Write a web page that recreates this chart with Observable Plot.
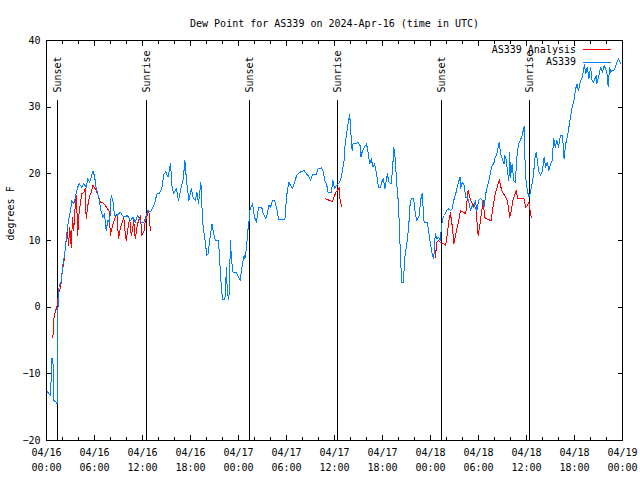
<!DOCTYPE html>
<html><head><meta charset="utf-8">
<script src="https://cdn.jsdelivr.net/npm/d3@7"></script>
<script src="https://cdn.jsdelivr.net/npm/@observablehq/plot@0.6"></script>
<style>
body{margin:0;background:#fff;}
#wrap{width:640px;height:480px;}
</style></head><body><div id="wrap"></div><script>
const title = "Dew Point for AS339 on 2024-Apr-16 (time in UTC)";
const yLabel = "degrees F";
const seriesNames = ["AS339 Analysis", "AS339"];
const seriesColors = ["#ff0000", "#0080ff"];
const startUTC = Date.UTC(2024, 3, 16);

// hours after 2024-04-16 00:00 UTC
const blueHours = [0.0,0.5,0.67,0.8,0.9,1.2,1.33,1.4,1.58,1.83,2.04,2.33,2.58,2.75,3.0,3.17,3.42,3.7,3.9,4.1,4.4,4.67,4.96,5.17,5.4,5.8,6.0,6.2,6.4,6.6,6.8,7.04,7.25,7.46,7.67,7.9,8.08,8.3,8.5,8.8,9.25,9.5,9.8,10.1,10.5,10.8,11.1,11.4,11.8,12.2,12.67,13.0,13.5,13.8,14.1,14.4,14.7,14.9,15.2,15.5,15.7,15.9,16.25,16.5,16.75,17.1,17.3,17.5,17.8,18.1,18.3,18.6,18.8,19.0,19.3,19.4,19.5,19.7,19.9,20.0,20.2,20.5,20.7,20.9,21.1,21.5,21.6,21.8,22.0,22.3,22.5,22.6,22.8,23.0,23.1,23.3,23.7,24.0,24.2,24.5,24.7,24.8,25.0,25.2,25.33,25.4,25.75,26.0,26.25,26.5,26.9,27.1,27.4,27.6,27.8,28.0,28.25,28.5,28.75,28.9,29.0,29.8,29.9,30.1,30.3,30.5,30.75,31.1,31.25,31.7,32.2,32.5,32.8,33.0,33.25,33.7,33.96,34.4,34.6,34.8,35.0,35.2,35.6,35.8,36.0,36.2,36.5,36.8,37.0,37.2,37.3,37.5,37.7,37.9,38.0,38.2,38.3,38.7,38.9,39.2,39.3,39.5,40.0,40.2,40.4,40.6,40.8,41.0,41.25,41.5,41.7,41.9,42.1,42.3,42.6,42.8,43.1,43.3,43.4,43.6,43.75,43.96,44.1,44.25,44.4,44.6,44.8,45.1,45.3,45.4,45.6,45.9,46.1,46.3,46.6,46.75,46.96,47.1,47.2,47.6,47.8,48.0,48.2,48.4,48.6,48.8,49.0,49.2,49.4,49.5,49.75,50.0,50.3,50.5,50.7,50.9,51.1,51.3,51.5,51.7,51.75,51.96,52.2,52.4,52.6,52.8,53.0,53.2,53.4,53.6,53.8,54.0,54.25,54.5,54.7,54.9,55.1,55.3,55.5,55.7,55.9,56.1,56.3,56.5,56.6,56.75,56.9,57.2,57.3,57.5,57.6,57.8,57.9,58.0,58.2,58.4,58.6,58.8,59.0,59.2,59.4,59.5,59.7,59.8,59.9,60.1,60.3,60.4,60.7,60.9,61.0,61.2,61.3,61.5,61.75,62.0,62.2,62.4,62.6,62.8,63.0,63.2,63.4,63.6,63.8,64.0,64.25,64.5,64.7,64.9,65.1,65.3,65.5,65.7,65.9,66.1,66.3,66.5,66.75,67.0,67.1,67.25,67.4,67.6,67.8,68.0,68.2,68.4,68.7,68.8,69.0,69.25,69.5,69.7,69.9,70.1,70.2,70.4,70.5,70.7,70.9,71.1,71.3,71.5,71.75];
const blueValues = [-12.5,-13.3,-7.7,-7.7,-14,-14.2,-14.5,-1,3.3,3.5,6.3,8.5,11.5,13,14.5,16,15.5,17,18,18.5,18,18.5,18,19.3,18.7,20.4,19.7,18,17,16,14.5,13.5,14,11.5,13,12.7,16.75,16,13.75,13.75,14.25,13.75,13.5,13.75,13,13.5,12.75,13.75,12.75,12.75,14.5,14.3,15.5,17,17,17.8,20,20.3,19.5,21.6,18,17,17.8,16,17.5,19.3,22,19,16,17.8,16.5,16,17.2,15.5,18.75,16,13,11,9.5,7.75,8,11,12.5,11,10,10,8,4,1.15,1.15,6,2,1.15,10,7.5,5.25,5.25,4.5,4,6.5,7.75,7.25,9,11.8,13,14.5,15.5,13.5,12.75,15,15,14,13.3,14,15.25,15,16,16,15,14,13.15,13.15,15,17.5,18.75,18.25,17.75,19,19.75,20.25,20.5,20,19.6,19,19.9,19.9,20.75,20.9,20.25,19,18.5,17.25,17.25,19,17.75,18.25,18.5,19.25,20.5,22,24,26,27.5,28.9,27,23.5,24.5,24.5,24.75,24.25,22.5,23.5,24.5,23.25,21.5,22.25,21,21.5,20,17.9,17.9,18.75,19.25,17.75,20,18.75,18.5,21.5,24,22.25,19,16,12.5,7.5,3.75,3.75,7.5,10,12.5,15,16.25,16.25,14,13,13.75,16,17,14.5,12.75,12.75,11,9.5,8,7.25,11,10.25,10.5,10,12.25,13.25,13.75,14.5,14.75,14.5,14.75,16,16.75,17.75,18.75,19.5,17.75,18.75,18.25,16.5,16.5,15.75,14.5,15.25,15,16,14.5,16,16.25,16,15,17,18,19,20.25,21.25,21.5,22.5,23,24.25,24.75,23,22.5,21.5,22.75,22,20.5,19,23.25,19.5,21.5,19,18.75,22.5,24.5,25,25.5,26,27.1,22.5,19.5,17.5,16.5,16.75,18.5,20,22,23.25,22.5,20.5,19.75,20.5,22.5,21,21.75,20.5,21.5,22,25.25,24,25,24,25.75,25.75,22.25,24.5,25.5,27,28.5,30,30.75,32.5,33.5,32.5,34,34.5,35.5,36.4,35,36,34.25,36,34,33.75,34.75,33.5,34.5,36,35.25,36.25,35.75,34.75,33.1,36,35.25,35.5,35.5,36,36.75,37.25,36.6];

// null entries mark gaps in the analysis series
const redHours = [0.8,0.92,1.04,1.33,1.5,1.75,1.92,2.1,2.25,2.42,2.6,2.75,2.9,3.1,3.25,3.4,3.6,3.75,3.9,4.1,4.2,4.4,4.67,4.83,4.96,5.2,5.4,5.6,5.8,6.1,6.4,6.75,7.0,7.5,7.9,7.96,8.2,8.4,8.6,8.8,9.0,9.25,9.5,9.67,9.75,9.96,10.2,10.4,10.6,10.8,10.9,11.1,11.3,11.5,11.75,11.9,12.2,12.3,12.5,12.75,12.9,12.96,null,34.9,35.4,35.75,36.0,36.2,36.5,36.6,36.7,36.9,null,48.6,48.8,49.0,49.2,49.5,49.7,49.9,50.1,50.3,50.5,50.6,50.75,50.9,51.1,51.3,51.5,51.75,52.1,52.4,52.7,52.9,53.1,53.4,53.6,53.75,53.8,53.96,54.2,54.4,54.6,54.75,54.96,55.3,55.6,55.8,56.1,56.4,56.6,56.8,57.0,57.4,57.6,57.7,57.9,58.1,58.3,58.5,58.7,58.9,59.2,59.7,59.9,60.1,60.3,60.4,60.6,60.7];
const redValues = [-4.5,-1.75,-1,0.25,2,3,5,6.25,7.5,9.75,11.5,9.25,12,9,13.5,11.5,15.5,16.75,10.75,14.75,15.25,17,17.25,17.75,13.25,15.5,16.75,17.25,18.25,17.75,17,15.75,15.75,15,14.25,10.75,12,12.75,13.5,14,10.25,12,12.75,13.5,12,10,12,13.25,10.75,12,13,10.25,12,13,13.75,10.75,11.5,12.5,13.5,14.5,13.5,11.5,null,16.25,16,15.85,16.75,17.25,17.75,18,16,15.1,null,7.5,9.75,10,9.75,9.5,9.5,9.25,11,13,14.25,13,12,9.5,10.5,11.75,12.75,14.5,14.25,14,17.5,16.5,15.75,15.25,15,14.5,13,10.75,12.5,14.5,16,13.5,13.25,13.1,13,15,17,18.25,19.1,18,17.25,16.5,16,15.25,13.5,14.5,16,16.75,17.5,16.25,16.25,16.25,15,15.25,15.75,14.75,13.5,13.4];

const sunHours = [1.42, 12.54, 25.42, 36.42, 49.42, 60.42];
const sunLabels = ["Sunset", "Sunrise", "Sunset", "Sunrise", "Sunset", "Sunrise"];
const xTickHours = [0, 6, 12, 18, 24, 30, 36, 42, 48, 54, 60, 66, 72];
const xMinorTickHours = [2, 4, 8, 10, 14, 16, 20, 22, 26, 28, 32, 34, 38, 40, 44, 46, 50, 52, 56, 58, 62, 64, 68, 70];
const yTicks = [-20, -10, 0, 10, 20, 30, 40];

const toDate = h => h == null ? null : new Date(startUTC + h * 3600e3);
const blue = blueHours.map((h, i) => ({t: toDate(h), v: blueValues[i]}));
const red = redHours.map((h, i) => ({t: toDate(h), v: redValues[i]}));
const sun = sunHours.map((h, i) => ({t: toDate(h), label: sunLabels[i]}));
const xTicks = xTickHours.map(toDate);
const xMinor = xMinorTickHours.map(toDate);

const crisp = {shapeRendering: "crispEdges"};
const blank = () => "";
const chart = Plot.plot({
  width: 640, height: 480,
  marginLeft: 46, marginRight: 18, marginTop: 40, marginBottom: 40,
  style: {fontFamily: "'DejaVu Sans Mono', monospace", fontSize: "10px", background: "#fff", color: "#000"},
  x: {type: "utc", domain: [toDate(0), toDate(72)], label: null},
  y: {domain: [-20, 40], label: null},
  marks: [
    Plot.ruleX(sun, {x: "t", insetTop: 60, stroke: "#000", strokeWidth: 1, ...crisp}),
    Plot.text(sun, {x: "t", text: "label", frameAnchor: "top", dy: 52, rotate: -90, textAnchor: "start", lineAnchor: "middle", fill: "#000"}),
    Plot.line(red, {x: "t", y: "v", stroke: seriesColors[0], strokeWidth: 1, ...crisp}),
    Plot.line(blue, {x: "t", y: "v", stroke: seriesColors[1], strokeWidth: 1, ...crisp}),
    Plot.frame({stroke: "#000", ...crisp}),
    Plot.axisX(xTicks, {anchor: "bottom", tickSize: -5, tickPadding: 13, tickFormat: d3.utcFormat("%m/%d"), label: null, ...crisp}),
    Plot.axisX(xTicks, {anchor: "bottom", tickSize: 0, tickPadding: 23, tickFormat: d3.utcFormat("%H:%M"), label: null}),
    Plot.axisX(xMinor, {anchor: "bottom", tickSize: -3, tickFormat: blank, label: null, ...crisp}),
    Plot.axisX(xTicks, {anchor: "top", tickSize: -5, tickFormat: blank, label: null, ...crisp}),
    Plot.axisX(xMinor, {anchor: "top", tickSize: -3, tickFormat: blank, label: null, ...crisp}),
    Plot.axisY(yTicks, {anchor: "left", tickSize: -5, tickPadding: 11, label: null, ...crisp}),
    Plot.axisY(yTicks, {anchor: "right", tickSize: -5, tickFormat: blank, label: null, ...crisp}),
    Plot.text([title], {frameAnchor: "top", dy: -21, fill: "#000"}),
    Plot.text([yLabel], {frameAnchor: "left", dx: -36, rotate: -90, fill: "#000"})
  ]
});

// legend (top right, inside the frame)
const svg = d3.select(chart);
const leg = svg.append("g").attr("font-family", "'DejaVu Sans Mono', monospace").attr("font-size", 10);
seriesNames.forEach((name, i) => {
  const y = 49.5 + i * 12.5;
  leg.append("text").attr("x", 576).attr("y", y).attr("dy", "0.32em").attr("text-anchor", "end").attr("fill", "#000").text(name);
  leg.append("line").attr("x1", 583).attr("x2", 611).attr("y1", y).attr("y2", y).attr("stroke", seriesColors[i]).attr("stroke-width", 1).attr("shape-rendering", "crispEdges");
});
document.getElementById("wrap").appendChild(chart);
</script></body></html>
